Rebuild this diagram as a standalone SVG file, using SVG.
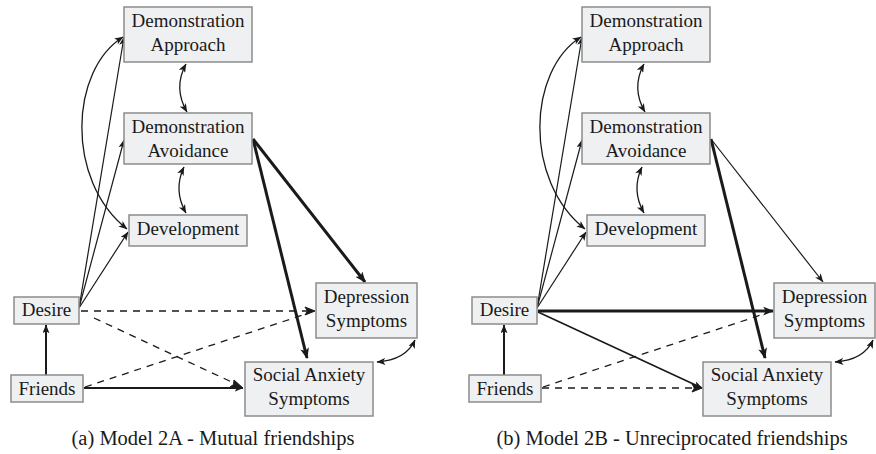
<svg xmlns="http://www.w3.org/2000/svg" width="876" height="454" viewBox="0 0 876 454">
<style>
.box{fill:#eff0f2;stroke:#8c8c8c;stroke-width:1.5}
.t{font-family:"Liberation Serif","Times New Roman",serif;font-size:19px;fill:#1a1a1a;text-anchor:middle}
.cap{font-family:"Liberation Serif","Times New Roman",serif;font-size:20.5px;fill:#1a1a1a;text-anchor:middle}
.c{fill:none;stroke:#1a1a1a}
.thin{stroke-width:1.2;marker-end:url(#ah)}
.med{stroke-width:2;marker-end:url(#ah)}
.thick{stroke-width:3;marker-end:url(#ahL)}
.dash{stroke-width:1.3;stroke-dasharray:7 6}
.dbl{stroke-width:1.3;marker-start:url(#ah);marker-end:url(#ah)}
</style>
<defs>
<marker id="ah" viewBox="0 0 10 8" refX="9.5" refY="4" markerWidth="9" markerHeight="7" markerUnits="userSpaceOnUse" orient="auto-start-reverse">
<path d="M0,0 L10,4 L0,8 L2.5,4 z" fill="#1a1a1a"/>
</marker>
<marker id="ahL" viewBox="0 0 10 8" refX="9" refY="4" markerWidth="11" markerHeight="9" markerUnits="userSpaceOnUse" orient="auto-start-reverse">
<path d="M0,0 L10,4 L0,8 L2.5,4 z" fill="#1a1a1a"/>
</marker>
</defs>

<g id="panelA">
<g id="connectorsA" class="c">
<path class="c dbl" d="M186,64 Q173,88 187,112"/>
<path class="c dbl" d="M184,167 Q173,190 186,213"/>
<path class="c dbl" d="M123,37 C70,70 65,180 127,229"/>
<path class="c thin" d="M79,308 L124,37"/>
<path class="c thin" d="M79,308 L124,140"/>
<path class="c thin" d="M79,308 L128,232"/>
<path class="c thick" d="M253,139 L365,282"/>
<path class="c thick" d="M253,139 L307,358"/>
<path class="c dash" d="M81,311 L309,311"/>
<path d="M305,307 L315,311 L305,315 L307.5,311 z" fill="#1a1a1a"/>
<path class="c dash" d="M94,318 L236,384"/>
<path d="M234,380 L243,388 L230,387 L233.5,384.5 z" fill="#1a1a1a"/>
<path class="c dash" d="M85,387 L309,313"/>
<path class="c med" d="M84,388 L243,388"/>
<path class="c med" d="M46,375 L46,325"/>
<path class="c dbl" d="M415,340 Q406,360 377,362"/>
</g>
<g id="a-approach"><rect class="box" x="124" y="7" width="128" height="55"/><text class="t" x="188" y="27">Demonstration</text><text class="t" x="188" y="51">Approach</text></g>
<g id="a-avoidance"><rect class="box" x="124" y="113" width="128" height="51"/><text class="t" x="188" y="133">Demonstration</text><text class="t" x="188" y="157">Avoidance</text></g>
<g id="a-development"><rect class="box" x="129" y="215" width="118" height="31"/><text class="t" x="188" y="235">Development</text></g>
<g id="a-desire"><rect class="box" x="14" y="297" width="65" height="27"/><text class="t" x="46.5" y="316">Desire</text></g>
<g id="a-friends"><rect class="box" x="11" y="375" width="72" height="27"/><text class="t" x="47" y="395">Friends</text></g>
<g id="a-depression"><rect class="box" x="316" y="283" width="101" height="55"/><text class="t" x="366.5" y="303">Depression</text><text class="t" x="366.5" y="327">Symptoms</text></g>
<g id="a-social"><rect class="box" x="245" y="362" width="128" height="54"/><text class="t" x="309" y="381">Social Anxiety</text><text class="t" x="309" y="405">Symptoms</text></g>
<text id="a-caption" class="cap" x="213" y="445">(a) Model 2A - Mutual friendships</text>
</g>

<g id="panelB" transform="translate(458,0)">
<g id="connectorsB" class="c">
<path class="c dbl" d="M186,64 Q173,88 187,112"/>
<path class="c dbl" d="M184,167 Q173,190 186,213"/>
<path class="c dbl" d="M123,37 C70,70 65,180 127,229"/>
<path class="c thin" d="M79,308 L124,37"/>
<path class="c thin" d="M79,308 L124,140"/>
<path class="c thin" d="M79,308 L128,232"/>
<path class="c thin" d="M253,139 L365,282"/>
<path class="c thick" d="M253,139 L307,358"/>
<path class="c thick" d="M80,311 L315,311"/>
<path class="c thin" style="stroke-width:1.6" d="M80,312 L244,388"/>
<path class="c dash" d="M85,387 L309,313"/>
<path class="c dash" d="M84,388 L238,388"/>
<path d="M234,384 L244,388 L234,392 L236.5,388 z" fill="#1a1a1a"/>
<path class="c med" d="M46,375 L46,325"/>
<path class="c dbl" d="M415,340 Q406,360 377,362"/>
</g>
<g id="b-approach"><rect class="box" x="124" y="7" width="128" height="55"/><text class="t" x="188" y="27">Demonstration</text><text class="t" x="188" y="51">Approach</text></g>
<g id="b-avoidance"><rect class="box" x="124" y="113" width="128" height="51"/><text class="t" x="188" y="133">Demonstration</text><text class="t" x="188" y="157">Avoidance</text></g>
<g id="b-development"><rect class="box" x="129" y="215" width="118" height="31"/><text class="t" x="188" y="235">Development</text></g>
<g id="b-desire"><rect class="box" x="14" y="297" width="65" height="27"/><text class="t" x="46.5" y="316">Desire</text></g>
<g id="b-friends"><rect class="box" x="11" y="375" width="72" height="27"/><text class="t" x="47" y="395">Friends</text></g>
<g id="b-depression"><rect class="box" x="316" y="283" width="101" height="55"/><text class="t" x="366.5" y="303">Depression</text><text class="t" x="366.5" y="327">Symptoms</text></g>
<g id="b-social"><rect class="box" x="245" y="362" width="128" height="54"/><text class="t" x="309" y="381">Social Anxiety</text><text class="t" x="309" y="405">Symptoms</text></g>
<text id="b-caption" class="cap" x="214" y="445">(b) Model 2B - Unreciprocated friendships</text>
</g>
</svg>
